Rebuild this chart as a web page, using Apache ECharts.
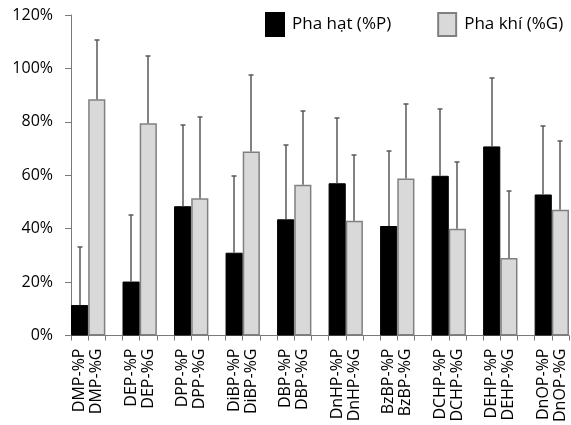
<!DOCTYPE html>
<html>
<head>
<meta charset="utf-8">
<script src="https://cdn.jsdelivr.net/npm/echarts@6/dist/echarts.min.js"></script>
<style>
html,body{margin:0;padding:0;background:#fff;}
#c{width:571px;height:425px;}
</style>
</head>
<body>
<div id="c"></div>
<script>
// Data
var compounds = ['DMP','DEP','DPP','DiBP','DBP','DnHP','BzBP','DCHP','DEHP','DnOP'];
var particlePct = [11.4, 20.2, 48.4, 31.0, 43.5, 57.0, 41.0, 59.8, 70.8, 52.8];
var gasPct      = [88.5, 79.5, 51.4, 68.9, 56.4, 43.0, 58.8, 40.0, 29.0, 47.1];
var particleErrTop = [33.3, 45.0, 78.8, 59.7, 71.3, 81.4, 68.9, 84.7, 96.3, 78.6];
var gasErrTop      = [110.5, 104.5, 81.9, 97.6, 84.1, 67.4, 86.7, 64.9, 54.2, 72.8];
var yTicks = [0, 20, 40, 60, 80, 100, 120];
var seriesNames = ['Pha hạt (%P)', 'Pha khí (%G)'];

// Build 29-slot category axis: P, G, gap, P, G, gap, ...
var categories = [], pData = [], gData = [], errData = [];
compounds.forEach(function (c, i) {
  var pIdx = categories.length;
  categories.push(c + '-%P'); pData.push(particlePct[i]); gData.push(null);
  errData.push([pIdx, particlePct[i], particleErrTop[i]]);
  var gIdx = categories.length;
  categories.push(c + '-%G'); pData.push(null); gData.push(gasPct[i]);
  errData.push([gIdx, gasPct[i], gasErrTop[i]]);
  if (i < compounds.length - 1) {
    categories.push(''); pData.push(null); gData.push(null);
  }
});

var font = 'Open Sans';
var chart = echarts.init(document.getElementById('c'), null, {renderer: 'canvas'});
chart.setOption({
  animation: false,
  backgroundColor: '#fff',
  textStyle: {fontFamily: font},
  legend: {
    left: 260, top: 7,
    itemWidth: 18, itemHeight: 23,
    itemGap: 46,
    icon: 'rect',
    textStyle: {fontFamily: font, fontSize: 17, color: '#000', padding: [0, 0, 0, 3]},
    data: seriesNames
  },
  grid: {left: 71, top: 15, right: 2, bottom: 87, containLabel: false},
  xAxis: {
    type: 'category',
    data: categories,
    boundaryGap: true,
    axisLine: {lineStyle: {color: '#7a7a7a', width: 1}},
    axisTick: {show: true, alignWithLabel: false, interval: 0, length: 5, lineStyle: {color: '#7a7a7a', width: 1}},
    axisLabel: {interval: 0, rotate: 90, margin: 13, fontFamily: font, fontSize: 16, color: '#000'}
  },
  yAxis: {
    type: 'value',
    min: yTicks[0], max: yTicks[yTicks.length - 1], interval: 20,
    splitLine: {show: false},
    axisLine: {show: true, lineStyle: {color: '#7a7a7a', width: 1}},
    axisTick: {show: true, length: 6, lineStyle: {color: '#7a7a7a'}},
    axisLabel: {formatter: '{value}%', margin: 18, fontFamily: font, fontSize: 16, color: '#000'}
  },
  series: [
    {
      name: seriesNames[0], type: 'bar', data: pData,
      barWidth: '100%', barGap: '-100%',
      itemStyle: {color: '#000', borderColor: '#000', borderWidth: 1}
    },
    {
      name: seriesNames[1], type: 'bar', data: gData,
      barWidth: '100%', barGap: '-100%',
      itemStyle: {color: '#d9d9d9', borderColor: '#808080', borderWidth: 1.5}
    },
    {
      name: 'err', type: 'custom', data: errData, z: 5,
      encode: {x: 0, y: [1, 2]},
      renderItem: function (params, api) {
        var x = api.value(0);
        var lo = api.coord([x, api.value(1)]);
        var hi = api.coord([x, api.value(2)]);
        var cx = Math.round(lo[0]);
        var hy = Math.round(hi[1]);
        var style = {stroke: '#595959', lineWidth: 1.5};
        return {
          type: 'group',
          children: [
            {type: 'line', shape: {x1: cx, y1: lo[1], x2: cx, y2: hy}, style: style},
            {type: 'line', shape: {x1: cx - 2.5, y1: hy, x2: cx + 2.5, y2: hy}, style: style}
          ]
        };
      }
    }
  ]
});
</script>
</body>
</html>
